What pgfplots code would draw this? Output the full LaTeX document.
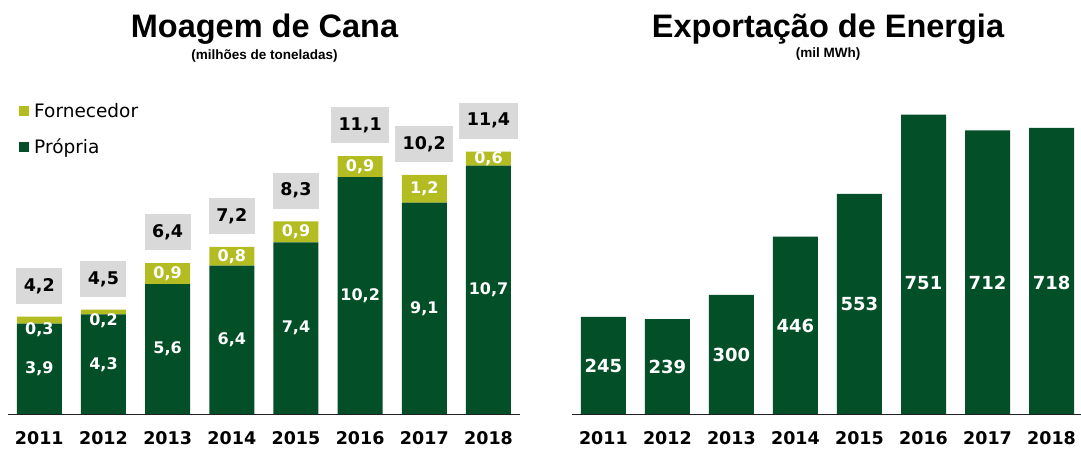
\documentclass[border=0pt]{standalone}
\usepackage{fontspec}
\setmainfont{DejaVu Sans}
\newfontfamily\arialf{Liberation Sans}
\usepackage{pgfplots}
\pgfplotsset{compat=1.18}
\definecolor{dg}{HTML}{034F27}
\definecolor{yg}{HTML}{B3BC21}
\definecolor{bx}{HTML}{D9D9D9}
\definecolor{axl}{HTML}{222222}
\tikzset{
  inlbl/.style={font=\bfseries\fontsize{16}{18}\selectfont, text=white, inner sep=0pt},
  inlblR/.style={font=\bfseries\fontsize{18}{20}\selectfont, text=white, inner sep=0pt},
  totbox/.style={fill=bx, inner xsep=7.5pt, inner ysep=0pt, minimum height=36pt, anchor=south, yshift=12.6pt, font=\bfseries\fontsize{17.5}{20}\selectfont, text=black},
}
\pgfplotsset{
  yearaxis/.style={
    scale only axis, anchor=south west, clip=false,
    axis line style={draw=none}, ytick=\empty,
    xtick={0,1,2,3,4,5,6,7},
    xticklabels={2011,2012,2013,2014,2015,2016,2017,2018},
    major tick length=0pt,
    xticklabel style={anchor=base, yshift=-30pt, font=\bfseries\fontsize{17.5}{20}\selectfont},
    ymin=0,
  },
  leftgeom/.style={at={(7.7pt,35.7pt)}, width=512.3pt, height=372pt,
    xmin=-0.4925, xmax=7.491, ymin=0, ymax=16, scale only axis, anchor=south west, clip=false},
}
\begin{document}
\begin{tikzpicture}
\path[use as bounding box] (0pt,0pt) rectangle (1081pt,450pt);
\node[anchor=base, font=\arialf\bfseries\fontsize{32.5}{36}\selectfont] at (264.5pt,412.5pt) {Moagem de Cana};
\node[anchor=base, font=\arialf\bfseries\fontsize{13.5}{15}\selectfont] at (264.5pt,390.7pt) {(milhões de toneladas)};
\node[anchor=base, font=\arialf\bfseries\fontsize{32.5}{36}\selectfont] at (828pt,412.5pt) {Exportação de Energia};
\node[anchor=base, font=\arialf\bfseries\fontsize{13.5}{15}\selectfont] at (828pt,392.5pt) {(mil MWh)};

\begin{axis}[yearaxis, leftgeom,
  ybar stacked, bar width=45pt,
  reverse legend,
  legend style={at={(0.0221,0.7664)}, anchor=west, draw=none, fill=none,
    font=\fontsize{18.5}{20}\selectfont, row sep=20pt, inner sep=0pt,
    nodes={inner sep=0pt}, /tikz/every even column/.append style={column sep=0pt},
    /tikz/every odd column/.append style={column sep=5pt}},
  legend cell align=left,
]
\addplot[fill=dg, draw=none, legend image code/.code={\fill[dg] (0pt,-5pt) rectangle (10pt,5pt);}]
  coordinates {(0,3.9) (1,4.3) (2,5.6) (3,6.4) (4,7.4) (5,10.2) (6,9.1) (7,10.7)};
\addlegendentry{Própria}
\addplot[fill=yg, draw=none, legend image code/.code={\fill[yg] (0pt,-5pt) rectangle (10pt,5pt);}]
  coordinates {(0,0.3) (1,0.2) (2,0.9) (3,0.8) (4,0.9) (5,0.9) (6,1.2) (7,0.6)};
\addlegendentry{Fornecedor}
\end{axis}

% label overlay for the left chart
\begin{axis}[leftgeom, hide axis]
\draw[axl, line width=1.2pt] (rel axis cs:0,0) -- (rel axis cs:1,0);
% propria labels
\node[inlbl] at (axis cs:0,1.95) {3,9};
\node[inlbl] at (axis cs:1,2.15) {4,3};
\node[inlbl] at (axis cs:2,2.8) {5,6};
\node[inlbl] at (axis cs:3,3.2) {6,4};
\node[inlbl] at (axis cs:4,3.7) {7,4};
\node[inlbl] at (axis cs:5,5.1) {10,2};
\node[inlbl] at (axis cs:6,4.55) {9,1};
\node[inlbl] at (axis cs:7,5.35) {10,7};
% fornecedor labels
\node[inlbl] at (axis cs:0,3.63) {0,3};
\node[inlbl] at (axis cs:1,4.03) {0,2};
\node[inlbl] at (axis cs:2,6.05) {0,9};
\node[inlbl] at (axis cs:3,6.8) {0,8};
\node[inlbl] at (axis cs:4,7.85) {0,9};
\node[inlbl] at (axis cs:5,10.65) {0,9};
\node[inlbl] at (axis cs:6,9.7) {1,2};
\node[inlbl] at (axis cs:7,11.0) {0,6};
% totals
\node[totbox] at (axis cs:0,4.2) {4,2};
\node[totbox] at (axis cs:1,4.5) {4,5};
\node[totbox] at (axis cs:2,6.5) {6,4};
\node[totbox] at (axis cs:3,7.2) {7,2};
\node[totbox] at (axis cs:4,8.3) {8,3};
\node[totbox] at (axis cs:5,11.1) {11,1};
\node[totbox] at (axis cs:6,10.3) {10,2};
\node[totbox] at (axis cs:7,11.3) {11,4};
\end{axis}

\begin{axis}[yearaxis,
  at={(572.3pt,35.3pt)}, width=508.7pt, height=379.5pt,
  xmin=-0.485, xmax=7.46, ymax=950,
  ybar, bar width=45pt,
]
\addplot[fill=dg, draw=none]
  coordinates {(0,245) (1,239) (2,300) (3,446) (4,553) (5,751) (6,712) (7,718)};
\draw[axl, line width=1.2pt] (rel axis cs:0,0) -- (rel axis cs:1,0);
\node[inlblR] at (axis cs:0,122.5) {245};
\node[inlblR] at (axis cs:1,119.5) {239};
\node[inlblR] at (axis cs:2,150) {300};
\node[inlblR] at (axis cs:3,223) {446};
\node[inlblR] at (axis cs:4,276.5) {553};
\node[inlblR] at (axis cs:5,330) {751};
\node[inlblR] at (axis cs:6,330) {712};
\node[inlblR] at (axis cs:7,330) {718};
\end{axis}
\end{tikzpicture}
\end{document}
